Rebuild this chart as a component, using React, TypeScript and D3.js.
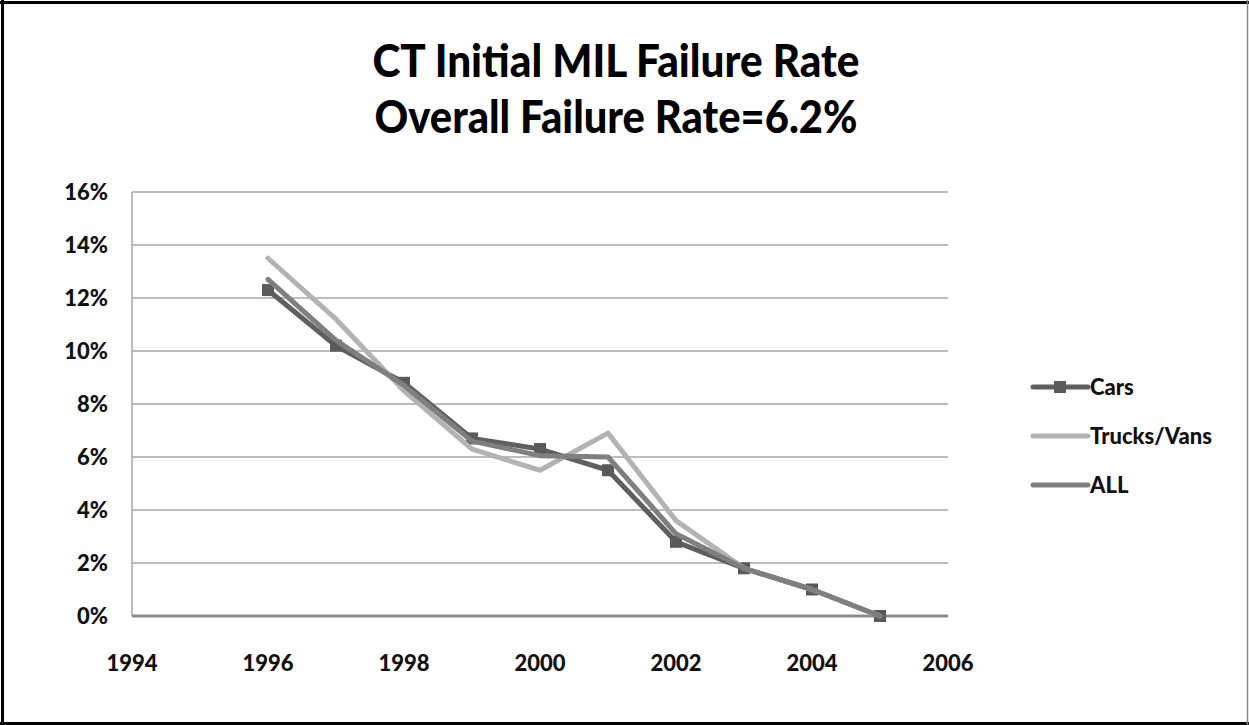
import React from "react";
import * as d3 from "d3";

const years = [1996, 1997, 1998, 1999, 2000, 2001, 2002, 2003, 2004, 2005];
const cars = [12.3, 10.2, 8.8, 6.7, 6.3, 5.5, 2.8, 1.8, 1.0, 0.0];
const trucks = [13.5, 11.2, 8.5, 6.3, 5.5, 6.9, 3.6, 1.8, 1.0, 0.0];
const all = [12.7, 10.4, 8.7, 6.6, 6.05, 6.0, 3.1, 1.8, 1.0, 0.0];
const yTicks = [0, 2, 4, 6, 8, 10, 12, 14, 16];
const xTicks = [1994, 1996, 1998, 2000, 2002, 2004, 2006];
const titleLines = ["CT Initial MIL Failure Rate", "Overall Failure Rate=6.2%"];
const seriesNames = ["Cars", "Trucks/Vans", "ALL"];

const W = 1249;
const H = 725;
const FONT = "Lato, 'Open Sans', sans-serif";

export default function App() {
  const x = d3.scaleLinear().domain([1994, 2006]).range([132, 948]);
  const y = d3.scaleLinear().domain([0, 16]).range([616, 192]);
  const line = d3
    .line<number>()
    .x((_, i) => x(years[i]))
    .y((d) => y(d));

  const series = [
    { name: seriesNames[0], data: cars, color: "#5f5f5f", marker: true },
    { name: seriesNames[1], data: trucks, color: "#b3b3b3", marker: false },
    { name: seriesNames[2], data: all, color: "#7f7f7f", marker: false },
  ];

  return (
    <svg
      width={W}
      height={H}
      style={{ position: "absolute", left: 0, top: 0, display: "block", background: "#fff" }}
      fontFamily={FONT}
    >
      <rect x={0} y={0} width={W} height={H} fill="#fff" />
      {/* border */}
      <line x1={2.5} y1={0} x2={2.5} y2={H} stroke="#000" strokeWidth={3} />
      <line x1={0} y1={2.5} x2={W} y2={2.5} stroke="#000" strokeWidth={3} />
      <line x1={0} y1={723.5} x2={W} y2={723.5} stroke="#000" strokeWidth={3} />
      <line x1={1247.5} y1={0} x2={1247.5} y2={H} stroke="#888" strokeWidth={1.5} />

      {/* title */}
      {titleLines.map((t, i) => (
        <text
          key={t}
          x={616}
          y={77 + i * 56}
          textAnchor="middle"
          fontSize={46}
          fontWeight={900}
          fill="#000"
          textLength={i === 0 ? 487 : 483}
          lengthAdjust="spacingAndGlyphs"
        >
          {t}
        </text>
      ))}

      {/* grid */}
      {yTicks.map((t) => (
        <g key={t}>
          {t > 0 && (
            <line x1={x(1994)} x2={x(2006)} y1={y(t)} y2={y(t)} stroke="#a6a6a6" strokeWidth={1.5} />
          )}
          <text
            x={108}
            y={y(t)}
            dy="0.36em"
            textAnchor="end"
            fontSize={22}
            fontWeight={900}
            fill="#111"
          >
            {t}%
          </text>
        </g>
      ))}
      <line x1={x(1994)} x2={x(1994)} y1={y(16)} y2={y(0)} stroke="#a6a6a6" strokeWidth={1.5} />
      <line x1={x(1994)} x2={x(2006)} y1={y(0)} y2={y(0)} stroke="#8c8c8c" strokeWidth={3} />
      {xTicks.map((t) => (
        <text
          key={t}
          x={x(t)}
          y={663}
          dy="0.36em"
          textAnchor="middle"
          fontSize={22}
          fontWeight={900}
          fill="#111"
        >
          {t}
        </text>
      ))}

      {/* series */}
      {series.map((s) => (
        <g key={s.name}>
          <path
            d={line(s.data) || ""}
            fill="none"
            stroke={s.color}
            strokeWidth={5}
            strokeLinejoin="round"
            strokeLinecap="round"
          />
          {s.marker &&
            s.data.map((v, i) => (
              <rect
                key={i}
                x={x(years[i]) - 6}
                y={y(v) - 6}
                width={12}
                height={12}
                fill="#5a5a5a"
              />
            ))}
        </g>
      ))}

      {/* legend */}
      {series.map((s, i) => {
        const ly = 387 + i * 49;
        return (
          <g key={s.name}>
            <line x1={1033} x2={1088} y1={ly} y2={ly} stroke={s.color} strokeWidth={5} strokeLinecap="round" />
            {s.marker && <rect x={1054} y={ly - 6} width={12} height={12} fill="#5a5a5a" />}
            <text x={1090} y={ly} dy="0.36em" fontSize={22} fontWeight={900} fill="#111">
              {s.name}
            </text>
          </g>
        );
      })}
    </svg>
  );
}
